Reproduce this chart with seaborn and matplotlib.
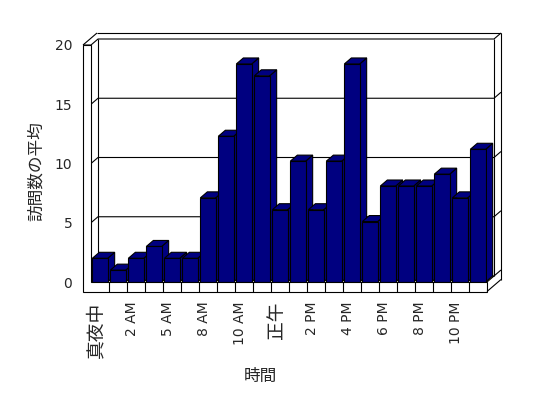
import numpy as np
import pandas as pd
import matplotlib
matplotlib.use('Agg')
import matplotlib.pyplot as plt
import seaborn as sns
from matplotlib.patches import Polygon
from matplotlib.transforms import ScaledTranslation

# ---- data ----
hours = ['真夜中', '1 AM', '2 AM', '3 AM', '5 AM', '6 AM', '8 AM', '9 AM',
         '10 AM', '11 AM', '正午', '1 PM', '2 PM', '3 PM', '4 PM', '5 PM',
         '6 PM', '7 PM', '8 PM', '9 PM', '10 PM', '11 PM']
visits = [2, 1, 2, 3, 2, 2, 7.1, 12.3, 18.4, 17.4, 6.1, 10.2, 6.1, 10.2,
          18.4, 5.1, 8.1, 8.1, 8.1, 9.1, 7.1, 11.2]
yticks = [0, 5, 10, 15, 20]
xlabel = '時間'
ylabel = '訪問数の平均'

sns.set_style('white')
plt.rcParams['font.family'] = ['DejaVu Sans', 'Noto Sans CJK JP']

W, H = 548, 398
fig = plt.figure(figsize=(W / 100, H / 100), dpi=100)
fig.patch.set_facecolor('white')
ax = fig.add_axes([91 / W, 116 / H, 396 / W, 237 / H])
ax.set_facecolor('none')

df = pd.DataFrame({'hour': hours, 'visits': visits})
sns.barplot(data=df, x='hour', y='visits', order=hours, color='#000080',
            saturation=1, width=0.85, edgecolor='black', linewidth=0.8, ax=ax)
bars = list(ax.patches)
n = len(hours)
X0, X1 = -0.5, n - 0.5
ax.set_xlim(X0, X1)
ax.set_ylim(0, 20)

# depth offsets in data units (7 px right, 6 px up)
DX = 7 / (396 / n)
DY = 6 / (237 / 20)
WW = 8 / (396 / n)       # left wall thickness
FT = 9.5 / (237 / 20)    # floor thickness

lk = dict(color='black', lw=0.8, clip_on=False, solid_capstyle='butt')

# back wall face
ax.add_patch(Polygon([(X0 + DX, DY), (X1 + DX, DY), (X1 + DX, 20 + DY), (X0 + DX, 20 + DY)],
                     closed=True, facecolor='white', edgecolor='none', zorder=1, clip_on=False))

# gridlines (left wall front -> left wall inner -> back wall -> right edge)
for v in yticks:
    xs = [X0 - WW, X0, X0 + DX, X1 + DX, X1 + 2 * DX]
    ys = [v, v, v + DY, v + DY, v + 2 * DY]
    ax.plot(xs, ys, zorder=2, **lk)

# back wall edges
ax.plot([X0 + DX, X0 + DX], [DY, 20 + DY], zorder=2, **lk)
ax.plot([X1 + DX, X1 + DX], [DY, 20 + DY], zorder=2, **lk)
ax.plot([X0 - WW + 2 * DX, X1 + 2 * DX], [20 + 2 * DY, 20 + 2 * DY], zorder=2, **lk)
ax.plot([X0 - WW, X0 - WW + 2 * DX], [20, 20 + 2 * DY], zorder=2, **lk)
ax.plot([X1 + 2 * DX, X1 + 2 * DX], [20 + 2 * DY, -FT + 2 * DY], zorder=2, **lk)
ax.plot([X0, X0 + DX], [0, DY], zorder=2, **lk)

# bars: side and top faces
for i, p in enumerate(bars):
    x0, w, h = p.get_x(), p.get_width(), p.get_height()
    z = 10 + 2 * i
    p.set_zorder(z + 1)
    top = Polygon([(x0, h), (x0 + w, h), (x0 + w + DX, h + DY), (x0 + DX, h + DY)],
                  closed=True, facecolor='#000080', edgecolor='black', lw=0.8,
                  zorder=z, clip_on=False)
    side = Polygon([(x0 + w, 0), (x0 + w, h), (x0 + w + DX, h + DY), (x0 + w + DX, DY)],
                   closed=True, facecolor='#000080', edgecolor='black', lw=0.8,
                   zorder=z, clip_on=False)
    ax.add_patch(side)
    ax.add_patch(top)

# floor front face + left wall front face
ax.add_patch(Polygon([(X0 - WW, -FT), (X1, -FT), (X1, 0), (X0, 0), (X0, 20), (X0 - WW, 20)],
                     closed=True, facecolor='white', edgecolor='black', lw=0.8,
                     zorder=200, clip_on=False))
for k in range(1, n):
    ax.plot([X0 + k, X0 + k], [-FT, 0], zorder=201, **lk)
# floor right side
ax.plot([X1, X1 + DX], [0, DY], zorder=201, **lk)
ax.plot([X1, X1 + 2 * DX], [-FT, -FT + 2 * DY], zorder=201, **lk)

# axes styling
for s in ax.spines.values():
    s.set_visible(False)
ax.set_yticks(yticks)
ax.set_yticklabels([str(v) for v in yticks], fontsize=10)
ax.tick_params(axis='y', length=0, pad=13.5)
ax.set_xticks(range(0, n, 2))
ax.set_xticklabels(hours[::2], rotation=90)
ax.tick_params(axis='x', length=0, pad=14)
off = ScaledTranslation(-4 / 100, 0, fig.dpi_scale_trans)
for lab in ax.get_xticklabels():
    txt = lab.get_text()
    if any(ord(c) > 0x2000 for c in txt):
        lab.set_fontsize(13.5)
    else:
        lab.set_fontsize(10)
    lab.set_transform(lab.get_transform() + off)

ax.set_xlabel(xlabel, fontsize=12)
ax.set_ylabel(ylabel, fontsize=12)
ax.xaxis.set_label_coords((260 - 91) / 396, (31 - 116) / 237)
ax.yaxis.set_label_coords((45 - 91) / 396, (227 - 116) / 237)

fig.savefig('out.png', dpi=100, facecolor='white')
